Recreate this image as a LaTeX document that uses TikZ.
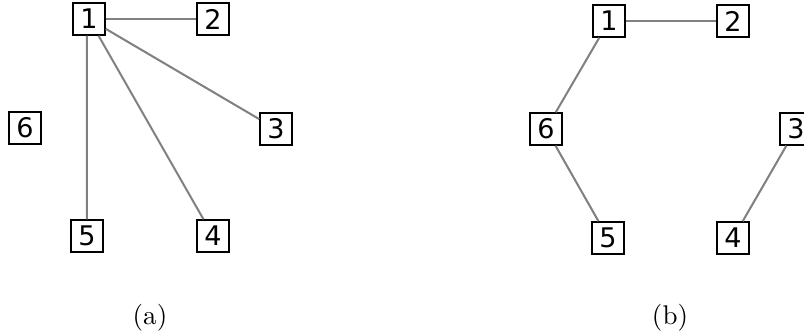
\documentclass[tikz,border=0pt]{standalone}
\usepackage{fontspec}
\newfontfamily\vertexfont{DejaVu Sans}
\usetikzlibrary{positioning}
\tikzset{
  vertex/.style = {
    rectangle, draw, line width=0.75pt, fill=white,
    minimum size=11.6pt, inner sep=0pt,
    font=\vertexfont\fontsize{10}{12}\selectfont,
  },
  edge/.style = {line width=0.75pt, draw=black!50},
  caption/.style = {font=\fontsize{10}{12}\selectfont},
}

\begin{document}
\begin{tikzpicture}[x=0.37pt, y=-0.37pt]
    \useasboundingbox (0,0) rectangle (804,336);
    % --- Graph (a) ---
    \node[vertex] (a1) at (89,19)  {1};
    \node[vertex] (a2) at (213,19) {2};
    \node[vertex] (a3) at (276,129) {3};
    \node[vertex] (a6) at (25,128) {6};
    \node[vertex] (a5) at (87,236) {5};
    \node[vertex] (a4) at (213,236) {4};
    \node[caption] (capa) at (150,318) {(a)};

    \draw[edge] (a1) -- (a2);
    \draw[edge] (a1) -- (a3);
    \draw[edge] (a1) -- (a4);
    \draw[edge] (a1.south west) ++(14.5,0) coordinate (a1s) (a1s) -- (a5);

    % --- Graph (b) ---
    \node[vertex] (b1) at (609,21)  {1};
    \node[vertex] (b2) at (733,21)  {2};
    \node[vertex] (b6) at (546,129) {6};
    \node[vertex] (b3) at (796,129) {3};
    \node[vertex] (b5) at (608,238) {5};
    \node[vertex] (b4) at (733,238) {4};
    \node[caption] (capb) at (670,318) {(b)};

    \draw[edge] (b1) -- (b2);
    \draw[edge] (b1) -- (b6);
    \draw[edge] (b6) -- (b5);
    \draw[edge] (b3) -- (b4);
\end{tikzpicture}
\end{document}
